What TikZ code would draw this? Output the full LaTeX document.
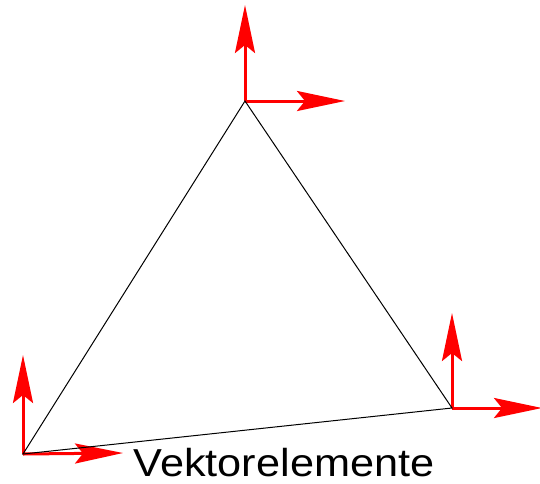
\documentclass[tikz,border=0pt]{standalone}
\usepackage{fontspec}
\setmainfont{Liberation Sans}
\usetikzlibrary{arrows.meta}
\tikzset{
	vec/.style  ={-{Stealth[length=48pt, width=20pt, inset=8pt]}, line width=3pt, red},
	edge/.style ={black, line width=1pt},
	lbl/.style  ={font=\fontsize{39}{39}\selectfont, anchor=base, inner sep=0pt, text depth=0pt},
}

\begin{document}
\begin{tikzpicture}[x=1pt, y=-1pt]
	\useasboundingbox (0,0) rectangle (540,483);
	% vertices
	\coordinate (A) at (23,454);
	\coordinate (B) at (245,101);
	\coordinate (C) at (452,408);
	% tips of the vectors
	\coordinate (Au) at (23,355);
	\coordinate (Ar) at (123,453);
	\coordinate (Bu) at (245,5);
	\coordinate (Br) at (345,101);
	\coordinate (Cu) at (452,313);
	\coordinate (Cr) at (542,408);
	\foreach \v in {A,B,C} {
		\draw[vec] (\v) -- (\v u);
		\draw[vec] (\v) -- (\v r);
	}
	\draw[edge] (A) -- (B) -- (C) -- cycle;
	\node[lbl] (title) at (284,476) {\scalebox{1.11}[1]{Vektorelemente}};
\end{tikzpicture}
\end{document}
